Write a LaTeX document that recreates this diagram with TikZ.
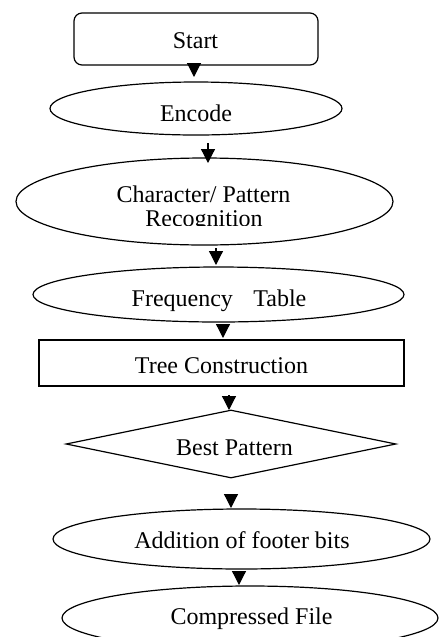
\documentclass[tikz,border=0pt]{standalone}
\usepackage{fontspec}
\setmainfont{Liberation Serif}
\usetikzlibrary{shapes.geometric,arrows.meta}
\begin{document}
\begin{tikzpicture}[x=0.75pt,y=-0.75pt,
  box/.style={draw,line width=0.9pt,inner sep=0pt},
  oval/.style={box,ellipse},
  lbl/.style={anchor=base,inner sep=0pt,font=\fontsize{18}{21.6}\selectfont},
  arr/.style={-{Triangle[width=10.5pt,length=10.5pt]},line width=0.9pt},
]
\useasboundingbox (0,0) rectangle (440,637);
% shapes
\node[box,rounded corners=6pt,minimum width=183pt,minimum height=39pt] (start) at (196,39) {};
\node[oval,minimum width=219pt,minimum height=39.75pt] (encode) at (196,108.5) {};
\node[oval,minimum width=282.75pt,minimum height=65.25pt] (charrec) at (204.5,201.5) {};
\node[oval,minimum width=278.25pt,minimum height=41.25pt] (freq) at (218.5,294.5) {};
\node[box,minimum width=273.75pt,minimum height=34.5pt] (tree) at (221.5,363) {};
\node[box,diamond,minimum width=247.5pt,minimum height=51pt] (best) at (231,444) {};
\node[oval,minimum width=282.75pt,minimum height=45pt] (addit) at (241.5,539) {};
\node[oval,minimum width=282pt,minimum height=48pt] (compr) at (250,618) {};
% labels
\node[lbl] (startT) at (195.5,48) {Start};
\node[lbl] (encodeT) at (196,121) {Encode};
\node[lbl] (charT) at (203.5,202) {Character/ Pattern};
\begin{scope}
\clip (0,0) rectangle (440,225.5);
\node[lbl] (recT) at (204,226.5) {Recognition};
\end{scope}
\node[lbl] (freqT) at (219,306) {Frequency\hspace{0.85em}Table};
\node[lbl] (treeT) at (221.5,373) {Tree Construction};
\node[lbl] (bestT) at (234.5,455) {Best Pattern};
\node[lbl] (additT) at (242,548) {Addition of footer bits};
\node[lbl] (comprT) at (251.5,624) {Compressed File};
% arrow end points
\coordinate (a1s) at (194,63);  \coordinate (a1e) at (194,77);
\coordinate (a2s) at (208,143); \coordinate (a2e) at (208,163);
\coordinate (a3s) at (216,248); \coordinate (a3e) at (216,265);
\coordinate (a4s) at (223,324); \coordinate (a4e) at (223,338);
\coordinate (a5s) at (229,395); \coordinate (a5e) at (229,410);
\coordinate (a6s) at (231,494); \coordinate (a6e) at (231,508);
\coordinate (a7s) at (239,571); \coordinate (a7e) at (239,585);
\draw[arr] (a1s) -- (a1e);
\draw[arr] (a2s) -- (a2e);
\draw[arr] (a3s) -- (a3e);
\draw[arr] (a4s) -- (a4e);
\draw[arr] (a5s) -- (a5e);
\draw[arr] (a6s) -- (a6e);
\draw[arr] (a7s) -- (a7e);
\end{tikzpicture}
\end{document}
